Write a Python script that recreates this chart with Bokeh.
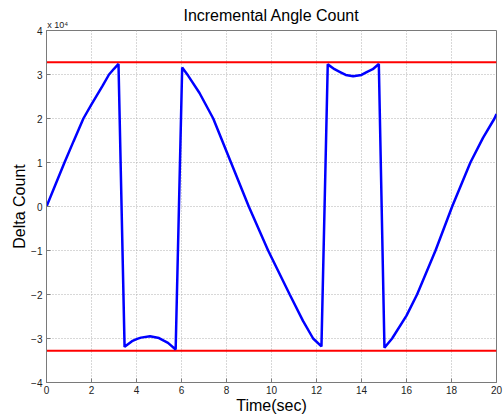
from bokeh.plotting import figure
from bokeh.models import Range1d, FixedTicker, LinearAxis
from bokeh.embed import file_html
from bokeh.resources import INLINE

# ---- data (Delta Count in units of 1e4 counts) ----
time_s = [0, 0.4, 0.8, 1.2, 1.64, 2.0, 2.49, 2.78, 3.0, 3.2,
          3.47, 3.8, 4.03, 4.2, 4.6, 5.0, 5.21, 5.4, 5.74,
          6.03, 6.3, 6.8, 7.41, 8.2, 8.99, 9.85, 10.81, 11.4, 11.85, 12.22,
          12.5, 12.8, 13.07, 13.3, 13.63, 14.0, 14.25, 14.5, 14.77,
          15.02, 15.36, 16.0, 16.47, 17.29, 18.03, 18.84, 19.4, 19.91, 20.0]
delta_count_e4 = [0, 0.5, 1.0, 1.48, 2.0, 2.32, 2.74, 3.0, 3.13, 3.24,
                  -3.19, -3.06, -3.01, -2.98, -2.95, -2.99, -3.05, -3.1, -3.25,
                  3.16, 2.97, 2.58, 2.0, 1.0, 0.0, -1.0, -2.0, -2.6, -3.0, -3.18,
                  3.23, 3.12, 3.05, 2.99, 2.96, 2.99, 3.06, 3.12, 3.24,
                  -3.21, -3.0, -2.48, -2.0, -1.0, 0.0, 1.0, 1.56, 2.0, 2.1]
limit_upper_e4 = 3.2767
limit_lower_e4 = -3.2768
x_ticks = [0, 2, 4, 6, 8, 10, 12, 14, 16, 18, 20]
y_ticks = [-4, -3, -2, -1, 0, 1, 2, 3, 4]
exponent_note = "x 10\u2074"

FONT = "Liberation Sans"

p = figure(width=504, height=416, output_backend="svg", toolbar_location=None,
           x_range=Range1d(0, 20), y_range=Range1d(-4, 4),
           min_border_left=46, min_border_right=8, min_border_top=30, min_border_bottom=34,
           title="Incremental Angle Count")
p.background_fill_color = "white"
p.border_fill_color = "white"
p.outline_line_color = "#7a7a7a"
p.outline_line_width = 1

p.title.align = "center"
p.title.text_font = FONT
p.title.text_font_size = "16px"
p.title.text_font_style = "normal"
p.title.text_color = "black"
p.title.standoff = -14
p.title.offset = 0

for ax in (p.xaxis[0], p.yaxis[0]):
    ax.axis_line_color = "#7a7a7a"
    ax.major_tick_line_color = "#7a7a7a"
    ax.major_tick_in = 4
    ax.major_tick_out = 0
    ax.minor_tick_line_color = None
    ax.major_label_text_font = FONT
    ax.major_label_text_font_size = "10px"
    ax.major_label_text_color = "#222222"
    ax.axis_label_text_font = FONT
    ax.axis_label_text_font_size = "16px"
    ax.axis_label_text_font_style = "normal"
    ax.axis_label_text_color = "black"

p.xaxis.ticker = FixedTicker(ticks=x_ticks)
p.yaxis.ticker = FixedTicker(ticks=y_ticks)
p.xaxis.axis_label = "Time(sec)"
p.yaxis.axis_label = "Delta Count"
p.xaxis.major_label_standoff = 3
p.xaxis.axis_label_standoff = 0
p.yaxis.major_label_standoff = 4
p.yaxis.axis_label_standoff = 0

p.grid.grid_line_color = "#b0b0b0"
p.grid.grid_line_dash = "1 2"
p.grid.grid_line_width = 1

p.line([0, 20], [limit_upper_e4, limit_upper_e4], line_color="#ff0000", line_width=2)
p.line([0, 20], [limit_lower_e4, limit_lower_e4], line_color="#ff0000", line_width=2)
p.line(time_s, delta_count_e4, line_color="#0000ff", line_width=2.5)

# exponent note "x 10^4" above the top-left corner, drawn as a one-tick axis above
p.extra_x_ranges = {"note": Range1d(0, 40)}
note_axis = LinearAxis(x_range_name="note", ticker=FixedTicker(ticks=[1]),
                       major_label_overrides={1: exponent_note},
                       axis_line_color=None, major_tick_line_color=None,
                       minor_tick_line_color=None, major_tick_in=0, major_tick_out=0,
                       major_label_standoff=1, major_label_text_font=FONT,
                       major_label_text_font_size="9px", major_label_text_color="#222222")
p.add_layout(note_axis, "above")

open("out.html", "w").write(file_html(p, INLINE))
